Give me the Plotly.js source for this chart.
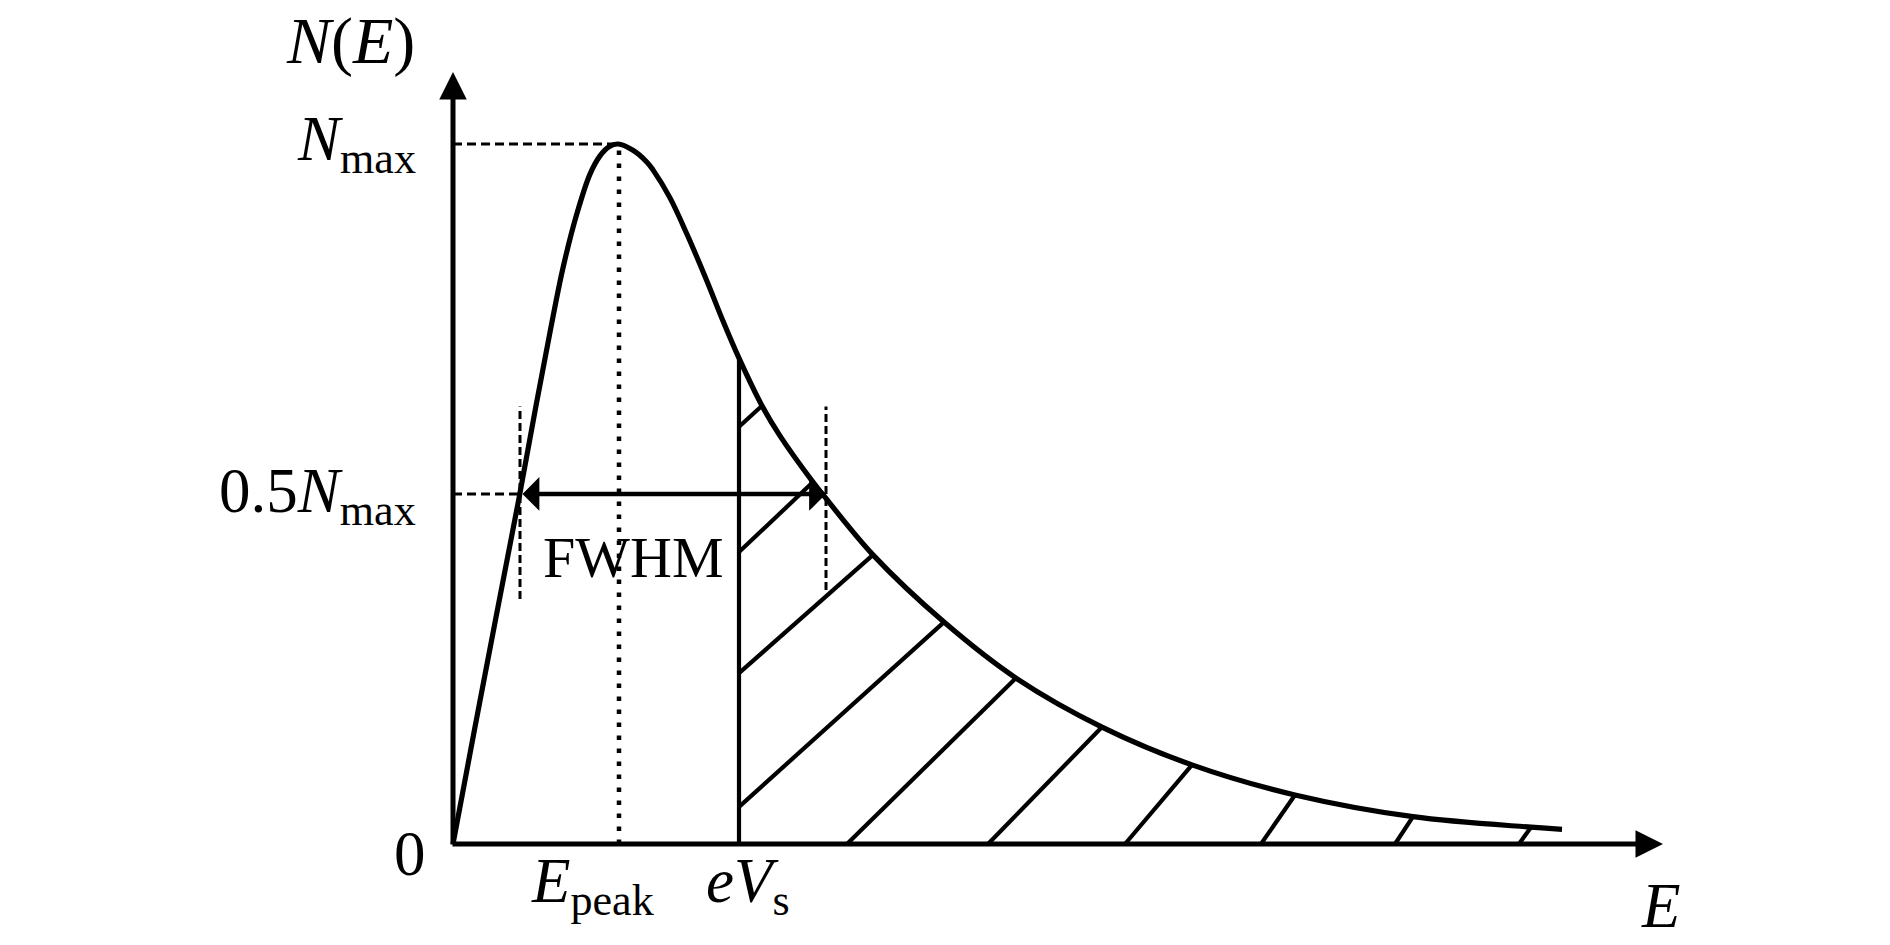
<!DOCTYPE html>
<html>
<head>
<meta charset="utf-8">
<script src="https://cdn.plot.ly/plotly-3.0.1.min.js"></script>
<style>html,body{margin:0;padding:0;background:#fff;}#chart{width:1890px;height:945px;}</style>
</head>
<body>
<div id="chart"></div>
<script>
// Energy distribution N(E) (schematic, Nmax normalised to 1)
const curveE = [0, 0.22, 0.43, 0.66, 0.83, 0.97, 1.10, 1.24, 1.37, 1.47, 1.56, 1.65, 1.80, 1.94, 2.00, 2.17, 2.34, 2.54, 2.70, 2.86, 3.09, 3.27, 3.60, 3.70, 4.20, 4.91, 5.63, 6.49, 7.39, 8.42, 9.60, 10.78, 11.09];
const curveN = [0, 0.167, 0.324, 0.494, 0.626, 0.731, 0.823, 0.901, 0.957, 0.983, 0.996, 1.000, 0.991, 0.974, 0.963, 0.923, 0.871, 0.804, 0.747, 0.694, 0.626, 0.583, 0.517, 0.499, 0.413, 0.317, 0.237, 0.167, 0.113, 0.070, 0.039, 0.024, 0.021];

const Nmax = 1.0;
const halfN = 0.5;
const Epeak = 1.66;
const eVs = 2.86;
const NatEVs = 0.692;
const fwhmLeft = 0.67;
const fwhmRight = 3.70;
const fwhmMarkLow = [0.35, 0.363];
const fwhmMarkHigh = 0.625;
const axisEndE = 12.10;
const axisEndN = 1.103;

// hatching lines of the region E > eVs
const hatchTopE = [3.09, 3.60, 4.20, 4.91, 5.63, 6.49, 7.39, 8.42, 9.60, 10.78];
const hatchTopN = [0.626, 0.517, 0.413, 0.317, 0.237, 0.167, 0.113, 0.070, 0.039, 0.024];
const hatchBotE = [2.86, 2.86, 2.86, 2.86, 3.94, 5.35, 6.72, 8.08, 9.42, 10.66];
const hatchBotN = [0.596, 0.417, 0.244, 0.053, 0, 0, 0, 0, 0, 0];

// labels
const yTickText = ['<i>N</i><sub>max</sub>', '0.5<i>N</i><sub>max</sub>', '0'];
const xTickText = ['<i>E</i><sub>peak</sub>', '<i>eV</i><sub>s</sub>'];
const yTitle = '<i>N</i>(<i>E</i>)';
const xTitle = '<i>E</i>';
const fwhmText = 'FWHM';

const hx = [], hy = [];
for (let i = 0; i < hatchTopE.length; i++) {
  hx.push(hatchBotE[i], hatchTopE[i], null);
  hy.push(hatchBotN[i], hatchTopN[i], null);
}

const blk = '#000';
const traces = [
  {x: curveE, y: curveN, mode: 'lines', line: {color: blk, width: 5.2, shape: 'spline', smoothing: 1}, hoverinfo: 'skip'},
  {x: hx, y: hy, mode: 'lines', line: {color: blk, width: 4.2}, hoverinfo: 'skip'},
  {x: [eVs, eVs], y: [0, NatEVs], mode: 'lines', line: {color: blk, width: 4.2}, hoverinfo: 'skip'},
  {x: [Epeak, Epeak], y: [0, Nmax], mode: 'lines', line: {color: blk, width: 4.5, dash: '4.5px,8.5px'}, hoverinfo: 'skip'},
  {x: [0, Epeak, null, 0, fwhmLeft - 0.02], y: [Nmax, Nmax, null, halfN, halfN], mode: 'lines', line: {color: blk, width: 3, dash: '9px,5px'}, hoverinfo: 'skip'},
  {x: [fwhmLeft, fwhmLeft, null, fwhmRight + 0.03, fwhmRight + 0.03], y: [fwhmMarkLow[0], fwhmMarkHigh, null, fwhmMarkLow[1], fwhmMarkHigh], mode: 'lines', line: {color: blk, width: 3, dash: '8px,4px'}, hoverinfo: 'skip'}
];

const ff = '"Liberation Serif", "Times New Roman", serif';
const font = {family: ff, size: 58, color: blk};
const mathFont = {family: ff, size: 63, color: blk};
const titleFont = {family: ff, size: 66, color: blk};
const arrowAnn = (x, y, ax, ay, extra) => Object.assign({
  x: x, y: y, ax: ax, ay: ay, xref: 'x', yref: 'y', axref: 'x', ayref: 'y',
  text: '', showarrow: true, arrowcolor: blk, standoff: 0, startstandoff: 0
}, extra);

const annotations = [
  arrowAnn(axisEndE, 0, -0.02, 0, {arrowhead: 2, arrowwidth: 5, arrowsize: 1.1}),
  arrowAnn(0, axisEndN, 0, -0.003, {arrowhead: 2, arrowwidth: 5, arrowsize: 1.1}),
  arrowAnn(fwhmRight + 0.03, halfN, fwhmLeft + 0.01, halfN, {arrowhead: 1, arrowwidth: 4.5, arrowsize: 1.25, arrowside: 'end+start', startarrowhead: 1, startarrowsize: 1.25}),
  {x: -0.35, y: Nmax, xref: 'x', yref: 'y', text: yTickText[0], showarrow: false, xanchor: 'right', yanchor: 'middle', yshift: 0, font: mathFont},
  {x: -0.35, y: halfN, xref: 'x', yref: 'y', text: yTickText[1], showarrow: false, xanchor: 'right', yanchor: 'middle', yshift: -2, font: mathFont},
  {x: -0.25, y: 0, xref: 'x', yref: 'y', text: yTickText[2], showarrow: false, xanchor: 'right', yanchor: 'middle', yshift: -10, font: mathFont},
  {x: 1.40, y: 0, xref: 'x', yref: 'y', text: xTickText[0], showarrow: false, xanchor: 'center', yanchor: 'middle', yshift: -42, font: mathFont},
  {x: 2.95, y: 0, xref: 'x', yref: 'y', text: xTickText[1], showarrow: false, xanchor: 'center', yanchor: 'middle', yshift: -42, font: mathFont},
  {x: 12.07, y: 0, xref: 'x', yref: 'y', text: xTitle, showarrow: false, xanchor: 'center', yanchor: 'middle', yshift: -62, font: mathFont},
  {x: -1.03, y: 1.144, xref: 'x', yref: 'y', text: yTitle, showarrow: false, xanchor: 'center', yanchor: 'middle', yshift: 2, font: titleFont},
  {x: 1.80, y: 0.409, xref: 'x', yref: 'y', text: fwhmText, showarrow: false, xanchor: 'center', yanchor: 'middle', font: font}
];

const layout = {
  width: 1890, height: 945,
  margin: {l: 0, r: 0, t: 0, b: 0, pad: 0},
  paper_bgcolor: '#fff', plot_bgcolor: '#fff',
  showlegend: false,
  xaxis: {range: [-4.53, 14.37], visible: false, showgrid: false, zeroline: false},
  yaxis: {range: [-0.1443, 1.2057], visible: false, showgrid: false, zeroline: false},
  annotations: annotations
};

Plotly.newPlot('chart', traces, layout, {displayModeBar: false, staticPlot: true});
</script>
</body>
</html>
